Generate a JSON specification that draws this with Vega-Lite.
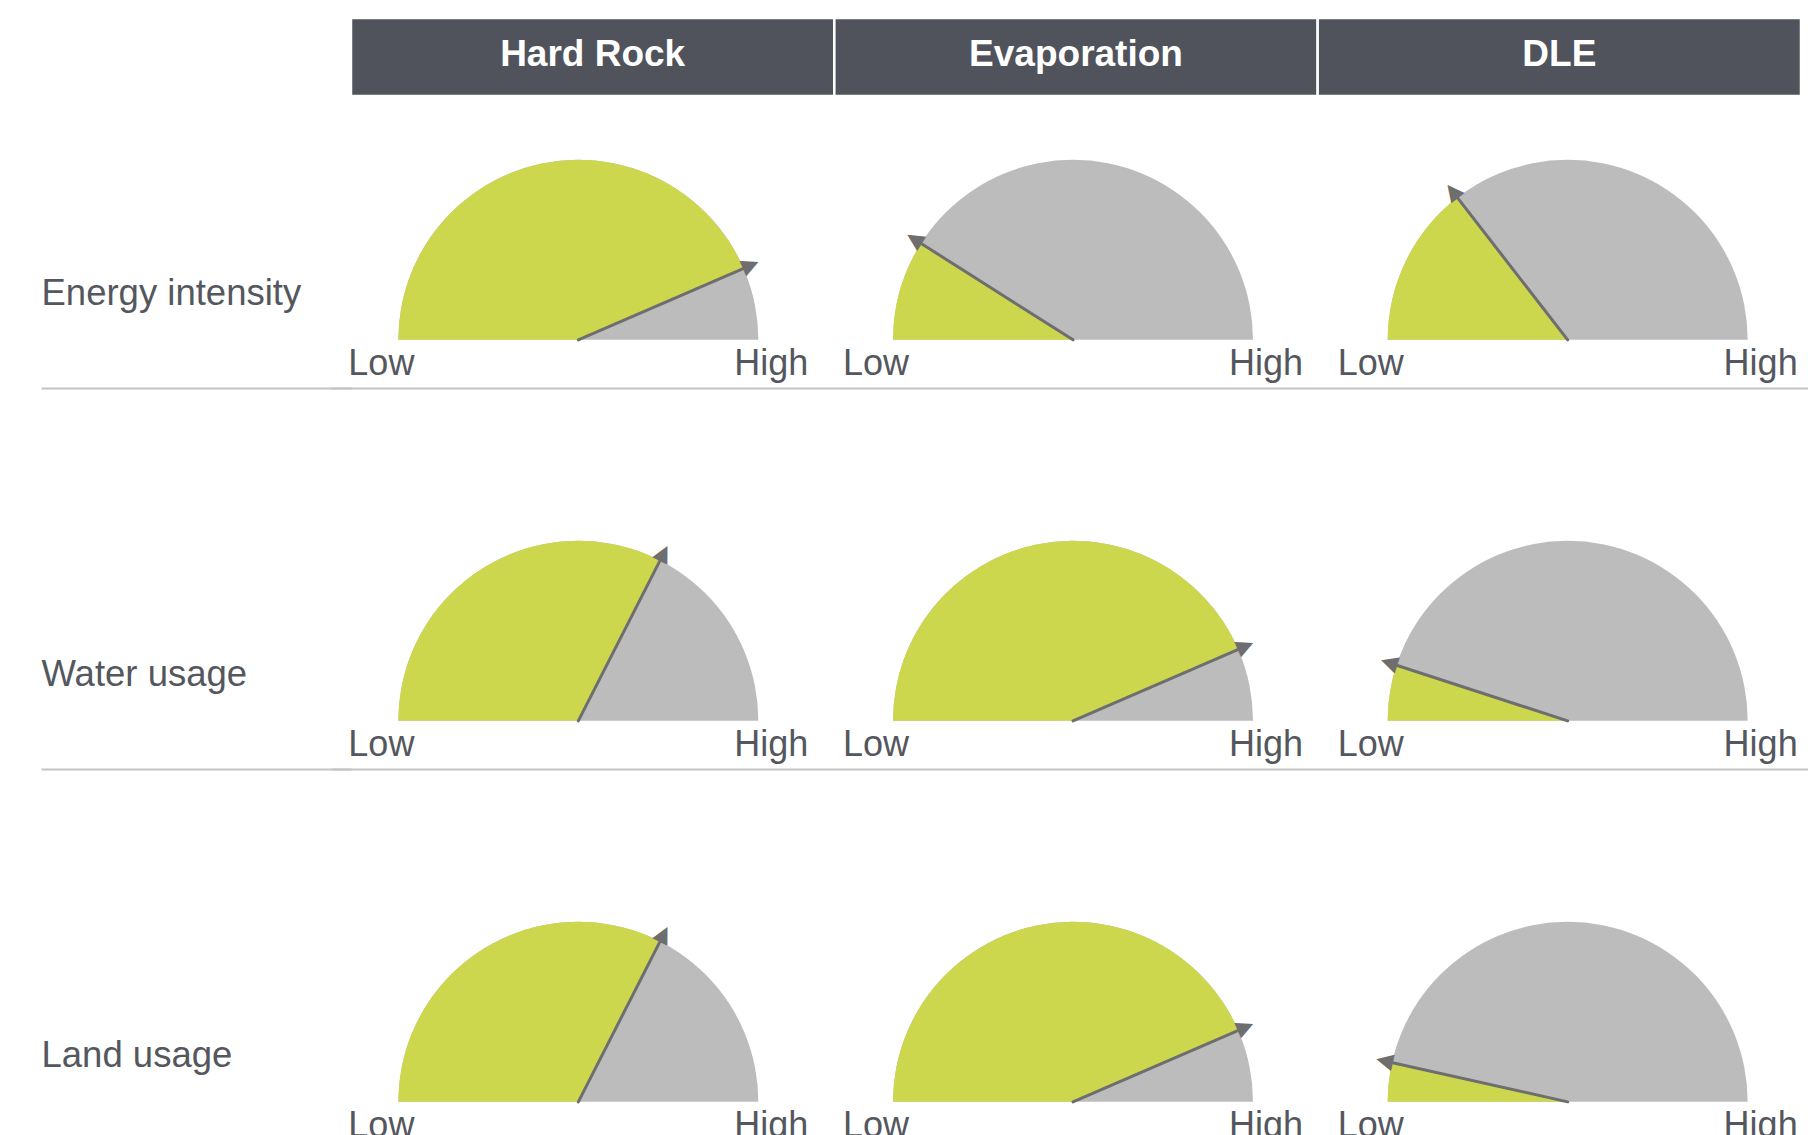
{
  "$schema": "https://vega.github.io/schema/vega-lite/v6.json",
  "background": "white",
  "padding": {"left": 40, "top": 16, "right": 8, "bottom": 0},
  "bounds": "flush",
  "spacing": 0,
  "config": {"view": {"stroke": null}, "font": "Liberation Sans"},
  "datasets": {
    "scores": [
      {"metric": "Energy intensity", "method": "Hard Rock", "value": 0.87},
      {"metric": "Energy intensity", "method": "Evaporation", "value": 0.18},
      {"metric": "Energy intensity", "method": "DLE", "value": 0.29},
      {"metric": "Water usage", "method": "Hard Rock", "value": 0.65},
      {"metric": "Water usage", "method": "Evaporation", "value": 0.87},
      {"metric": "Water usage", "method": "DLE", "value": 0.10},
      {"metric": "Land usage", "method": "Hard Rock", "value": 0.65},
      {"metric": "Land usage", "method": "Evaporation", "value": 0.87},
      {"metric": "Land usage", "method": "DLE", "value": 0.07}
    ]
  },
  "vconcat": [
    {
      "width": 1450,
      "height": 78,
      "data": {"values": [{"method": "Hard Rock"}, {"method": "Evaporation"}, {"method": "DLE"}]},
      "encoding": {
        "x": {
          "field": "method", "type": "nominal",
          "sort": ["Hard Rock", "Evaporation", "DLE"],
          "scale": {"type": "band", "paddingInner": 0, "paddingOuter": 0},
          "axis": null
        }
      },
      "layer": [
        {"mark": {"type": "rect", "fill": "#50535b", "stroke": "white", "strokeWidth": 2.5}},
        {
          "mark": {"type": "text", "color": "white", "fontSize": 37, "fontWeight": "bold", "font": "Liberation Sans", "baseline": "middle", "align": "center", "dy": -2},
          "encoding": {"text": {"field": "method", "type": "nominal"}}
        }
      ]
    },
    {
      "width": 1450,
      "height": 1143,
      "data": {"name": "scores"},
      "encoding": {
        "x": {
          "field": "method", "type": "nominal",
          "sort": ["Hard Rock", "Evaporation", "DLE"],
          "scale": {"type": "band", "paddingInner": 0, "paddingOuter": 0, "range": [-20, 1464]},
          "axis": null
        },
        "y": {
          "field": "metric", "type": "nominal",
          "sort": ["Energy intensity", "Water usage", "Land usage"],
          "bandPosition": 0.64,
          "scale": {"type": "band", "paddingInner": 0, "paddingOuter": 0},
          "axis": {
            "title": null,
            "domain": false,
            "ticks": true,
            "tickSize": 310,
            "tickColor": "#c3c3c3",
            "tickWidth": 2,
            "grid": true,
            "gridColor": "#c3c3c3",
            "gridWidth": 2,
            "bandPosition": 0.769,
            "labelAlign": "left",
            "labelBaseline": "middle",
            "labelPadding": 0,
            "labelOffset": 7,
            "labelFontSize": 36.5,
            "labelFont": "Liberation Sans",
            "labelColor": "#54575e",
            "labelLimit": 400
          }
        }
      },
      "layer": [
        {
          "mark": {"type": "arc", "radius": 180, "theta": -1.5707963, "theta2": 1.5707963, "color": "#bcbcbc"}
        },
        {
          "mark": {"type": "arc", "radius": 180, "color": "#cdd74e"},
          "encoding": {
            "theta": {"field": "value", "type": "quantitative", "stack": false, "scale": {"domain": [0, 1], "range": [-1.5707963, 1.5707963]}}
          }
        },
        {
          "mark": {"type": "arc", "radius": 184, "fill": "#6e6e6e", "stroke": "#6e6e6e", "strokeWidth": 3, "strokeJoin": "round"},
          "encoding": {
            "theta": {"field": "value", "type": "quantitative", "stack": false},
            "theta2": {"field": "value"}
          }
        },
        {
          "mark": {"type": "text", "text": "▲", "radius": 189, "fontSize": 22, "font": "DejaVu Sans", "color": "#6e6e6e", "align": "center", "baseline": "middle"},
          "encoding": {
            "theta": {"field": "value", "type": "quantitative", "stack": false},
            "angle": {"field": "value", "type": "quantitative", "scale": {"domain": [0, 1], "range": [-90, 90]}, "legend": null}
          }
        },
        {
          "mark": {"type": "text", "text": "Low", "fontSize": 36, "font": "Liberation Sans", "color": "#54575e", "align": "left", "baseline": "alphabetic", "dx": -230, "dy": 35}
        },
        {
          "mark": {"type": "text", "text": "High", "fontSize": 36, "font": "Liberation Sans", "color": "#54575e", "align": "right", "baseline": "alphabetic", "dx": 230, "dy": 35}
        }
      ]
    }
  ]
}
